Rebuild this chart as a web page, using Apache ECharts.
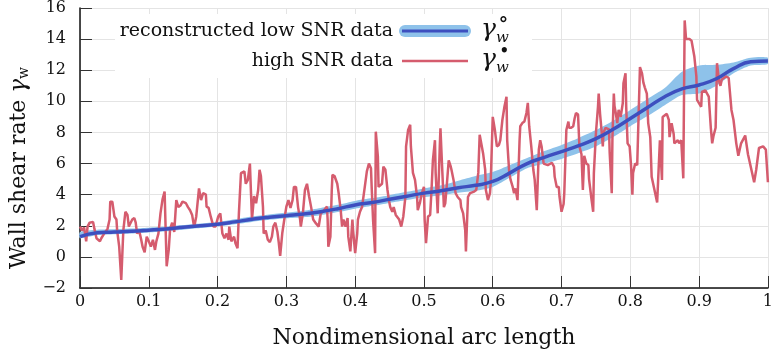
<!doctype html>
<html>
<head>
<meta charset="utf-8">
<script src="https://cdn.jsdelivr.net/npm/echarts@6/dist/echarts.min.js"></script>
<style>
    html, body { margin: 0; padding: 0; background: #fff; }
    #chart { width: 776px; height: 355px; }
</style>
</head>
<body>
<div id="chart"></div>
<script>
// high SNR data (red)
var arcHigh = [
  0.000,0.003,0.006,0.009,0.011,0.014,0.019,0.021,0.024,0.029,0.031,0.036,0.040,0.043,0.044,0.047,0.050,0.053,0.054,0.057,
  0.060,0.063,0.066,0.069,0.071,0.076,0.079,0.081,0.083,0.086,0.089,0.091,0.094,0.097,0.100,0.103,0.106,0.109,0.111,0.114,
  0.117,0.120,0.123,0.126,0.129,0.131,0.134,0.137,0.140,0.143,0.146,0.149,0.151,0.154,0.157,0.160,0.163,
  0.166,0.169,0.173,0.176,0.179,0.183,0.184,0.187,0.190,0.194,0.197,0.201,0.204,0.207,0.210,0.213,0.216,0.217,0.220,0.224,
  0.226,0.229,0.231,0.234,0.239,0.241,0.244,0.247,0.250,0.253,0.256,0.259,0.261,0.263,0.266,0.267,0.270,0.273,0.276,0.279,
  0.281,0.284,0.287,0.289,0.291,0.294,0.297,0.300,0.303,0.306,0.309,0.311,0.314,0.317,0.320,0.321,0.324,0.327,0.330,0.333,0.336,
  0.339,0.343,0.347,0.350,0.353,0.359,0.360,0.361,0.364,0.366,0.367,0.370,0.374,0.376,0.379,0.381,0.383,0.386,0.389,0.390,
  0.393,0.396,0.397,0.400,0.403,0.404,0.407,0.410,0.411,0.414,0.417,0.420,0.423,0.424,0.426,0.429,0.430,0.433,0.434,0.439,
  0.441,0.444,0.447,0.449,0.451,0.454,0.456,0.459,0.461,0.464,0.467,0.470,0.473,0.474,0.477,0.480,0.481,0.484,0.487,0.490,
  0.491,0.494,0.497,0.500,
  0.501,0.503,0.506,0.509,0.511,0.513,0.516,0.517,0.520,0.523,0.524,0.526,0.529,0.531,0.533,0.536,0.539,0.540,0.543,0.546,
  0.549,0.553,0.554,0.557,0.560,0.561,0.564,0.567,0.569,0.573,0.576,0.579,0.581,0.583,0.586,0.589,0.590,0.593,0.596,0.597,
  0.600,0.603,0.606,0.609,0.611,0.614,0.617,0.620,0.621,0.624,0.626,0.629,0.631,0.633,0.636,0.639,0.640,0.643,0.646,0.649,
  0.651,0.653,0.656,0.659,0.661,0.664,
  0.667,0.669,0.671,0.674,0.680,0.686,0.689,0.690,0.693,0.696,0.697,0.700,0.703,0.704,0.707,0.710,0.711,0.714,0.717,0.719,
  0.721,0.724,0.726,0.729,0.731,0.733,0.736,0.739,0.740,0.743,0.746,0.747,0.750,0.753,0.754,0.756,0.759,0.760,0.761,0.764,
  0.769,0.770,0.773,0.774,0.776,0.777,0.779,0.781,0.783,0.786,0.789,0.790,0.793,0.794,0.796,0.799,0.801,0.803,0.804,0.807,
  0.810,0.811,0.814,0.817,0.819,0.821,0.824,0.826,0.829,
  0.831,0.839,0.843,0.846,0.847,0.853,0.856,0.857,0.860,0.863,0.864,0.869,0.871,0.874,0.877,0.879,0.881,0.886,0.889,0.893,
  0.896,0.897,0.903,0.904,0.909,0.911,0.914,0.917,0.919,0.921,0.924,0.926,0.929,0.931,0.933,0.939,0.943,0.947,0.950,0.954,
  0.957,0.961,0.967,0.971,0.974,0.980,0.983,0.987,0.993,0.997,1.000
];
var rateHigh = [
  1.95,1.7,1.9,1.0,1.95,2.2,2.25,1.8,1.2,1.0,1.2,1.56,1.8,2.4,3.55,3.55,2.6,2.4,1.7,0.66,
  -1.48,1.7,2.9,2.7,1.95,2.4,2.5,2.2,1.5,1.7,1.1,0.65,0.3,1.3,1.0,0.66,1.1,0.45,1.0,1.5,
  2.8,3.7,4.2,-0.6,0.45,1.8,2.2,1.6,3.65,3.2,3.3,3.55,3.65,3.45,3.2,3.0,2.7,
  1.9,2.6,4.4,3.65,4.1,4.0,3.23,3.15,2.6,1.95,1.95,2.6,2.8,1.5,1.2,1.5,1.1,1.95,1.0,1.3,
  0.88,0.56,2.8,5.38,5.5,4.7,4.95,6.0,2.4,3.9,3.45,4.3,5.6,5.2,3.2,1.5,1.7,1.1,0.95,1.3,
  1.95,2.2,1.6,0.9,0.06,1.5,2.4,3.23,3.65,3.15,3.65,4.5,4.5,3.2,2.4,1.95,2.8,4.3,4.7,3.9,3.2,
  2.4,2.15,1.95,2.8,2.9,3.23,2.4,0.66,1.3,4.3,5.27,5.2,4.7,4.1,3.0,1.95,2.4,1.95,2.5,1.3,
  0.35,2.4,1.7,0.24,1.5,2.4,2.9,3.2,3.1,4.5,5.5,6.0,5.7,4.5,2.4,0.24,8.05,6.45,4.5,4.7,
  5.8,5.6,4.3,3.65,3.2,2.9,3.2,2.7,2.8,2.4,1.95,2.6,3.85,7.1,8.16,8.5,7.1,5.4,4.95,3.85,
  3.0,3.45,4.1,4.5,
  2.4,0.88,2.6,2.7,4.3,6.2,7.5,5.4,2.8,7.1,8.27,6.2,3.2,3.45,4.5,6.2,5.8,5.6,4.95,4.1,
  3.85,3.65,3.2,2.8,1.7,0.35,3.85,4.1,4.0,4.2,4.3,5.4,7.85,7.75,6.65,5.6,4.3,3.65,4.1,4.7,
  9.0,8.2,7.1,7.2,7.5,8.8,9.65,10.3,7.5,5.4,4.95,4.5,4.1,4.4,3.65,7.5,8.4,8.6,8.7,9.25,
  9.9,8.4,7.1,5.6,4.95,3.0,
  6.9,7.5,7.1,6.0,5.9,6.05,5.8,5.16,4.5,4.5,3.9,2.9,3.4,4.1,8.16,8.7,8.3,8.3,8.4,8.9,
  9.25,9.15,7.1,6.6,4.3,6.5,6.0,5.9,5.0,3.9,2.9,5.38,7.95,9.66,10.5,9.2,7.7,7.1,8.0,8.3,
  8.2,6.7,4.1,7.7,10.5,9.7,9.2,8.6,9.45,9.0,9.88,11.16,11.8,9.66,7.3,7.1,5.9,4.0,5.4,6.0,
  5.9,5.8,12.2,11.8,11.2,10.9,10.5,8.6,7.7,
  5.15,3.5,7.5,4.95,9.0,9.2,8.8,7.7,8.6,7.9,7.3,7.5,7.3,7.5,5.05,15.2,14.0,14.0,13.9,12.9,
  11.6,10.1,9.65,10.6,10.7,10.6,10.3,8.3,7.3,7.8,8.3,12.45,11.3,11.0,11.4,11.6,11.5,9.45,8.8,7.3,
  6.5,7.3,7.8,6.6,6.0,4.8,5.6,7.0,7.1,6.9,4.8
];

// reconstructed low SNR data (blue) with its band
var arcLow = [0,0.025,0.05,0.075,0.1,0.125,0.15,0.175,0.2,0.225,0.25,0.275,0.3,0.325,0.35,0.375,0.4,0.425,0.45,0.475,
  0.5,0.525,0.55,0.575,0.6,0.625,0.65,0.675,0.7,0.725,0.75,0.775,0.8,0.825,0.85,0.875,0.9,0.925,0.95,0.975,1];
var rateLow = [1.3,1.55,1.6,1.65,1.72,1.8,1.9,2.0,2.1,2.25,2.42,2.55,2.65,2.75,2.9,3.1,3.34,3.5,3.7,3.9,
  4.1,4.25,4.45,4.6,4.85,5.4,6.0,6.4,6.77,7.15,7.6,8.2,8.9,9.6,10.3,10.8,11.05,11.45,12.1,12.55,12.6];
var bandLo = [1.2,1.4,1.45,1.5,1.57,1.65,1.75,1.85,1.95,2.1,2.25,2.38,2.48,2.55,2.68,2.88,3.1,3.28,3.47,3.65,
  3.85,3.97,4.12,4.25,4.5,5.1,5.7,6.0,6.3,6.68,7.1,7.7,8.4,9.05,9.75,10.4,10.5,11.0,11.8,12.3,12.4];
var bandHi = [1.6,1.75,1.78,1.82,1.88,1.95,2.05,2.15,2.25,2.42,2.6,2.72,2.85,2.97,3.15,3.35,3.6,3.78,3.97,4.18,
  4.4,4.6,4.9,5.2,5.45,5.9,6.35,6.8,7.2,7.65,8.15,8.75,9.45,10.15,10.85,11.9,12.3,12.35,12.5,12.8,12.8];

var redColor = '#d55c6e';
var blueColor = '#3d4fbf';
var bandColor = '#8ec2ea';
var serif = '"DejaVu Serif", serif';

var myChart = echarts.init(document.getElementById('chart'), null, {renderer: 'canvas'});

var lowData = [], highData = [], bandData = [];
for (var i = 0; i < arcLow.length; i++) {
    lowData.push([arcLow[i], rateLow[i]]);
    bandData.push([arcLow[i], bandLo[i], bandHi[i]]);
}
for (var j = 0; j < arcHigh.length; j++) {
    highData.push([arcHigh[j], rateHigh[j]]);
}

// band drawn as one polygon: upper edge left->right, lower edge right->left
function renderBand(params, api) {
    if (params.dataIndex !== 0) return;
    var pts = [];
    for (var k = 0; k < bandData.length; k++) {
        pts.push(api.coord([bandData[k][0], bandData[k][2]]));
    }
    for (var m = bandData.length - 1; m >= 0; m--) {
        pts.push(api.coord([bandData[m][0], bandData[m][1]]));
    }
    return {
        type: 'polygon',
        shape: { points: pts, smooth: 0.25 },
        style: { fill: bandColor, stroke: null }
    };
}

var option = {
    animation: false,
    backgroundColor: '#fff',
    grid: { left: 71, right: 5, top: 8, bottom: 67 },
    xAxis: {
        type: 'value', min: 0, max: 1, interval: 0.1,
        name: 'Nondimensional arc length',
        nameLocation: 'middle', nameGap: 39,
        nameTextStyle: { fontFamily: serif, fontSize: 22, color: '#111' },
        axisLine: { onZero: false, lineStyle: { color: '#111', width: 1.5 } },
        axisTick: { inside: true, length: 12, lineStyle: { color: '#333' } },
        axisLabel: { fontFamily: serif, fontSize: 16, color: '#111', margin: 6 },
        splitLine: { lineStyle: { color: '#e4e4e4', width: 1 } }
    },
    yAxis: {
        type: 'value', min: -2, max: 16, interval: 2,
        name: 'Wall shear rate {g|γ}{w|w}',
        nameLocation: 'middle', nameGap: 44,
        nameTextStyle: {
            fontFamily: serif, fontSize: 22, color: '#111',
            padding: [0, 40, 0, 0],
            rich: {
                g: { fontFamily: serif, fontSize: 23, fontStyle: 'italic', color: '#111' },
                w: { fontFamily: serif, fontSize: 14, color: '#111', padding: [10, 0, 0, 0] }
            }
        },
        axisLine: { show: true, onZero: false, lineStyle: { color: '#111', width: 1.5 } },
        axisTick: { show: true, inside: true, length: 12, lineStyle: { color: '#333' } },
        axisLabel: {
            fontFamily: serif, fontSize: 16, color: '#111', margin: 14,
            formatter: function (v) { return String(v).replace('-', '\u2212'); }
        },
        splitLine: { lineStyle: { color: '#e4e4e4', width: 1 } }
    },
    series: [
        {
            type: 'custom', data: bandData, renderItem: renderBand,
            encode: { x: 0, y: [1, 2] }, z: 1, silent: true, clip: true
        },
        {
            name: 'high SNR data', type: 'line', data: highData,
            symbol: 'none', lineStyle: { color: redColor, width: 2.5 }, z: 3
        },
        {
            name: 'reconstructed low SNR data', type: 'line', data: lowData, smooth: true,
            symbol: 'none', lineStyle: { color: blueColor, width: 3.5 }, z: 4
        }
    ],
    graphic: [
        { type: 'rect', z: 50, shape: { x: 115, y: 14, width: 417, height: 64 }, style: { fill: '#fff' } },
        { type: 'text', z: 51, x: 393, y: 31, style: { text: 'reconstructed low SNR data', font: '19px ' + serif, fill: '#111', align: 'right', verticalAlign: 'middle' } },
        { type: 'text', z: 51, x: 393, y: 61, style: { text: 'high SNR data', font: '19px ' + serif, fill: '#111', align: 'right', verticalAlign: 'middle' } },
        { type: 'line', z: 51, shape: { x1: 405, y1: 31, x2: 465, y2: 31 }, style: { stroke: bandColor, lineWidth: 12, lineCap: 'round' } },
        { type: 'line', z: 52, shape: { x1: 402, y1: 31, x2: 468, y2: 31 }, style: { stroke: blueColor, lineWidth: 3 } },
        { type: 'line', z: 51, shape: { x1: 402, y1: 61, x2: 468, y2: 61 }, style: { stroke: redColor, lineWidth: 2.5 } },
        { type: 'text', z: 51, x: 481, y: 29, style: { text: 'γ', font: 'italic 25px ' + serif, fill: '#111', align: 'left', verticalAlign: 'middle' } },
        { type: 'text', z: 51, x: 496, y: 38, style: { text: 'w', font: 'italic 15px ' + serif, fill: '#111', align: 'left', verticalAlign: 'middle' } },
        { type: 'text', z: 51, x: 498, y: 20, style: { text: '∘', font: '22px ' + serif, fill: '#111', align: 'left', verticalAlign: 'middle' } },
        { type: 'text', z: 51, x: 481, y: 59, style: { text: 'γ', font: 'italic 25px ' + serif, fill: '#111', align: 'left', verticalAlign: 'middle' } },
        { type: 'text', z: 51, x: 496, y: 68, style: { text: 'w', font: 'italic 15px ' + serif, fill: '#111', align: 'left', verticalAlign: 'middle' } },
        { type: 'text', z: 51, x: 499, y: 52, style: { text: '•', font: '18px ' + serif, fill: '#111', align: 'left', verticalAlign: 'middle' } }
    ]
};

myChart.setOption(option);
</script>
</body>
</html>
